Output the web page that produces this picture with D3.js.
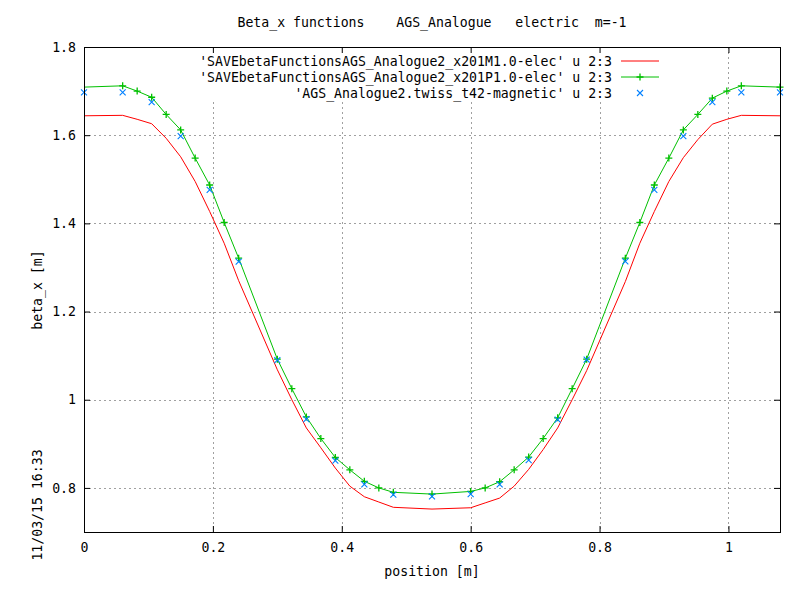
<!DOCTYPE html>
<html>
<head>
<meta charset="utf-8">
<script src="https://cdn.jsdelivr.net/npm/d3@7"></script>
<style>
  body { margin: 0; background: #fff; }
  text { font-family: "DejaVu Sans Mono", monospace; font-size: 13.2px; fill: #000; white-space: pre; }
</style>
</head>
<body>
<div id="vis"></div>
<script>
const FRAME_WIDTH = 800;
const FRAME_HEIGHT = 600;
const MARGINS = {left: 84, right: 20, top: 47, bottom: 68};
const VIS_WIDTH = FRAME_WIDTH - MARGINS.left - MARGINS.right;
const VIS_HEIGHT = FRAME_HEIGHT - MARGINS.top - MARGINS.bottom;

// positions along the lattice [m]
const positions = [0, 0.06, 0.0825, 0.105, 0.1275, 0.15, 0.1725, 0.195, 0.2175, 0.24,
  0.30, 0.3225, 0.345, 0.3675, 0.39, 0.4125, 0.435, 0.4575, 0.48, 0.54,
  0.60, 0.6225, 0.645, 0.6675, 0.69, 0.7125, 0.735, 0.7575, 0.78,
  0.84, 0.8625, 0.885, 0.9075, 0.93, 0.9525, 0.975, 0.9975, 1.02, 1.08];

// electric, x201M1.0
const betaM1 = [1.644, 1.645, 1.636, 1.626, 1.593, 1.551, 1.495, 1.427, 1.355, 1.270,
  1.068, 1.000, 0.936, 0.891, 0.845, 0.804, 0.780, 0.768, 0.756, 0.752,
  0.755, 0.766, 0.777, 0.804, 0.842, 0.887, 0.936, 1.000, 1.066,
  1.268, 1.355, 1.427, 1.495, 1.549, 1.590, 1.625, 1.636, 1.645, 1.644];

// electric, x201P1.0
const betaP1 = [1.709, 1.712, 1.700, 1.686, 1.647, 1.612, 1.548, 1.487, 1.402, 1.321,
  1.092, 1.025, 0.961, 0.912, 0.869, 0.841, 0.815, 0.800, 0.790, 0.786,
  0.792, 0.800, 0.814, 0.841, 0.870, 0.912, 0.959, 1.025, 1.092,
  1.321, 1.402, 1.487, 1.548, 1.612, 1.647, 1.684, 1.700, 1.712, 1.709];

// magnetic twiss reference
const magPositions = [0, 0.06, 0.105, 0.15, 0.195, 0.24, 0.30, 0.345, 0.39, 0.435, 0.48, 0.54,
  0.60, 0.645, 0.69, 0.735, 0.78, 0.84, 0.885, 0.93, 0.975, 1.02, 1.08];
const betaMag = [1.697, 1.697, 1.675, 1.598, 1.476, 1.313, 1.090, 0.956, 0.862, 0.808, 0.785, 0.781,
  0.786, 0.808, 0.863, 0.955, 1.091, 1.314, 1.476, 1.598, 1.675, 1.697, 1.697];

const xTicks = [0, 0.2, 0.4, 0.6, 0.8, 1.0];
const yTicks = [0.8, 1.0, 1.2, 1.4, 1.6, 1.8];

const legendLabels = [
  "'SAVEbetaFunctionsAGS_Analogue2_x201M1.0-elec' u 2:3",
  "'SAVEbetaFunctionsAGS_Analogue2_x201P1.0-elec' u 2:3",
  "'AGS_Analogue2.twiss_t42-magnetic' u 2:3"
];

const RED = '#ff0000', GREEN = '#00c000', BLUE = '#0080ff';

const FRAME = d3.select('#vis')
  .append('svg')
    .attr('width', FRAME_WIDTH)
    .attr('height', FRAME_HEIGHT);

const X_SCALE = d3.scaleLinear().domain([0, 1.08]).range([0, VIS_WIDTH]);
const Y_SCALE = d3.scaleLinear().domain([0.7, 1.8]).range([VIS_HEIGHT, 0]);

const fmt = v => String(+v.toFixed(1));

const g = FRAME.append('g')
  .attr('transform', 'translate(' + MARGINS.left + ',' + MARGINS.top + ')');

// grid
g.append('g').selectAll('line')
  .data(xTicks.filter(t => t > 0))
  .enter().append('line')
    .attr('x1', d => Math.round(X_SCALE(d)) + 0.5).attr('x2', d => Math.round(X_SCALE(d)) + 0.5)
    .attr('y1', 0).attr('y2', VIS_HEIGHT)
    .attr('stroke', '#a0a0a0').attr('stroke-dasharray', '2,3');
g.append('g').selectAll('line')
  .data(yTicks.filter(t => t < 1.8))
  .enter().append('line')
    .attr('y1', d => Math.round(Y_SCALE(d)) + 0.5).attr('y2', d => Math.round(Y_SCALE(d)) + 0.5)
    .attr('x1', 0).attr('x2', VIS_WIDTH)
    .attr('stroke', '#a0a0a0').attr('stroke-dasharray', '2,3');

// key area hides the grid behind it
g.append('rect')
  .attr('x', 110).attr('y', 0.5)
  .attr('width', 474).attr('height', 54)
  .attr('fill', '#fff');

// axes (ticks inward, mirrored)
function styleAxis(sel) {
  sel.select('.domain').remove();
  sel.selectAll('line').attr('stroke', '#000');
  sel.selectAll('text').style('font-family', '"DejaVu Sans Mono", monospace').style('font-size', '13.2px');
}
g.append('g')
  .attr('transform', 'translate(0,' + VIS_HEIGHT + ')')
  .call(d3.axisBottom(X_SCALE).tickValues(xTicks).tickFormat(fmt).tickSize(-6).tickPadding(11))
  .call(styleAxis);
g.append('g')
  .call(d3.axisTop(X_SCALE).tickValues(xTicks).tickFormat('').tickSize(-6))
  .call(styleAxis);
g.append('g')
  .call(d3.axisLeft(Y_SCALE).tickValues(yTicks).tickFormat(fmt).tickSize(-6).tickPadding(8))
  .call(styleAxis);
g.append('g')
  .attr('transform', 'translate(' + VIS_WIDTH + ',0)')
  .call(d3.axisRight(Y_SCALE).tickValues(yTicks).tickFormat('').tickSize(-6))
  .call(styleAxis);

// curves
const line = d3.line()
  .x(d => X_SCALE(d[0]))
  .y(d => Y_SCALE(d[1]));

const redData = positions.map((p, i) => [p, betaM1[i]]);
const greenData = positions.map((p, i) => [p, betaP1[i]]);
const blueData = magPositions.map((p, i) => [p, betaMag[i]]);

g.append('path')
  .datum(redData)
  .attr('fill', 'none').attr('stroke', RED).attr('stroke-width', 1)
  .attr('d', line);

g.append('path')
  .datum(greenData)
  .attr('fill', 'none').attr('stroke', GREEN).attr('stroke-width', 1)
  .attr('d', line);

function plus(sel, r) {
  sel.append('path')
    .attr('d', 'M' + (-r) + ',0H' + r + 'M0,' + (-r) + 'V' + r)
    .attr('stroke', GREEN).attr('stroke-width', 1.3).attr('fill', 'none');
}
function cross(sel, r) {
  sel.append('path')
    .attr('d', 'M' + (-r) + ',' + (-r) + 'L' + r + ',' + r + 'M' + (-r) + ',' + r + 'L' + r + ',' + (-r))
    .attr('stroke', BLUE).attr('stroke-width', 1.1).attr('fill', 'none');
}

// the first point sits on the border and shows no marker in the original
g.append('g').selectAll('g')
  .data(greenData.slice(1))
  .enter().append('g')
    .attr('transform', d => 'translate(' + X_SCALE(d[0]) + ',' + Y_SCALE(d[1]) + ')')
    .each(function() { plus(d3.select(this), 3.5); });

g.append('g').selectAll('g')
  .data(blueData)
  .enter().append('g')
    .attr('transform', d => 'translate(' + X_SCALE(d[0]) + ',' + Y_SCALE(d[1]) + ')')
    .each(function() { cross(d3.select(this), 3); });

// frame
g.append('rect')
  .attr('x', 0.5).attr('y', 0.5)
  .attr('width', VIS_WIDTH).attr('height', VIS_HEIGHT)
  .attr('fill', 'none').attr('stroke', '#000').attr('stroke-width', 1);

// key
const key = g.append('g');
legendLabels.forEach((lab, i) => {
  const ky = 14 + i * 16;
  key.append('text')
    .attr('x', 528).attr('y', ky)
    .attr('dy', '0.35em')
    .attr('text-anchor', 'end')
    .text(lab);
  const kg = key.append('g').attr('transform', 'translate(556,' + ky + ')');
  if (i < 2) {
    kg.append('line').attr('x1', -19).attr('x2', 19)
      .attr('stroke', i === 0 ? RED : GREEN).attr('stroke-width', 1);
  }
  if (i === 1) plus(kg, 3.5);
  if (i === 2) cross(kg, 3);
});

// titles
FRAME.append('text')
  .attr('x', 432).attr('y', 27)
  .attr('text-anchor', 'middle')
  .text('Beta_x functions    AGS_Analogue   electric  m=-1');

FRAME.append('text')
  .attr('x', 432).attr('y', 576)
  .attr('text-anchor', 'middle')
  .text('position [m]');

FRAME.append('text')
  .attr('transform', 'translate(37,290) rotate(-90)')
  .attr('text-anchor', 'middle')
  .attr('dy', '0.35em')
  .text('beta_x [m]');

FRAME.append('text')
  .attr('transform', 'translate(37,505) rotate(-90)')
  .attr('text-anchor', 'middle')
  .attr('dy', '0.35em')
  .text('11/03/15 16:33');
</script>
</body>
</html>
